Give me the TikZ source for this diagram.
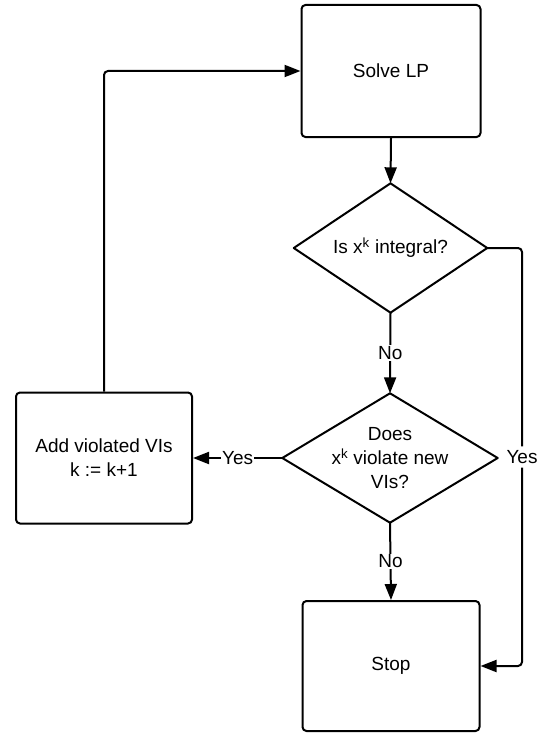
\documentclass[tikz,border=0pt]{standalone}
\usepackage{fontspec}
\setmainfont{Liberation Sans}
\usetikzlibrary{arrows.meta}
\begin{document}
\begin{tikzpicture}[x=1pt,y=-1pt,
  every node/.style={font=\fontsize{19}{24}\selectfont},
  box/.style={draw, line width=2pt, rounded corners=4pt, align=center, inner sep=0pt},
  dec/.style={align=center, inner sep=0pt},
  flow/.style={line width=2pt, -{Triangle[length=16pt,width=12pt]}},
  lbl/.style={fill=white, inner sep=1pt}]
\useasboundingbox (0,0) rectangle (539,733);
\node[box, minimum width=179pt, minimum height=132pt] (solve) at (391,71) {Solve LP};
\node[dec, minimum width=193pt, minimum height=129pt] (d1) at (390.5,248) {Is x\textsuperscript{k} integral?};
\node[dec, minimum width=215pt, minimum height=129pt] (d2) at (390,458) {Does\\x\textsuperscript{k} violate new\\VIs?};
\node[box, minimum width=176pt, minimum height=131pt] (add) at (104,458) {Add violated VIs\\k := k+1};
\node[box, minimum width=177pt, minimum height=130pt] (stop) at (391,666) {Stop};
\coordinate (r) at (522,248);
\draw[line width=2pt, line join=round] (d1.north) -- (d1.east) -- (d1.south) -- (d1.west) -- cycle;
\draw[line width=2pt, line join=round] (d2.north) -- (d2.east) -- (d2.south) -- (d2.west) -- cycle;
\draw[flow] (solve.south) -- (d1.north);
\draw[flow] (d1.south) -- node[lbl] {No} (d2.north);
\draw[flow] (d2.west) -- node[lbl] {Yes} (add.east);
\draw[flow] (d2.south) -- node[lbl] {No} (stop.north);
\draw[flow, rounded corners=4pt] (d1.east) -- (r) |- node[lbl, pos=0.25, inner ysep=4pt] {Yes} (stop.east);
\draw[flow, rounded corners=4pt] (add.north) |- (solve.west);
\end{tikzpicture}
\end{document}
